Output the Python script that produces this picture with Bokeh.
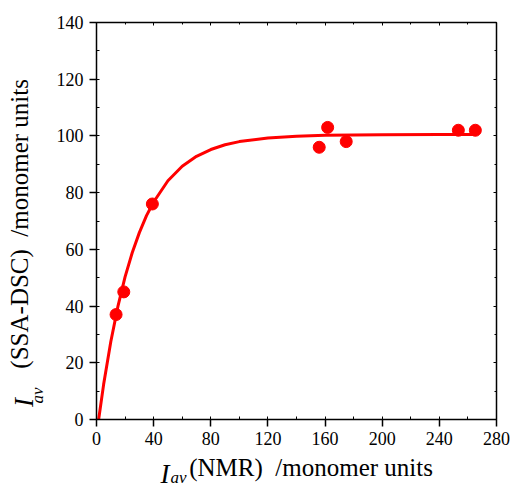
from bokeh.plotting import figure
from bokeh.models import Range1d, LinearAxis, SingleIntervalTicker, FixedTicker
from bokeh.embed import file_html
from bokeh.resources import INLINE

# measured data points
nmr = [13.7, 19.1, 39.1, 155.9, 161.8, 174.8, 253.3, 265.2]
ssa = [37, 45, 76, 96, 103, 98, 102, 102]

# fitted curve
fit_x = [1.5, 5, 10, 15, 20, 25, 30, 35, 40, 50, 60, 70, 80, 90, 100, 120, 140, 160, 200, 240, 266]
fit_y = [0, 12.4, 27.4, 39.9, 50.3, 58.8, 65.9, 71.9, 76.7, 84.2, 89.3, 92.8, 95.2, 96.9, 98.0, 99.3, 99.9, 100.2, 100.4, 100.5, 100.5]

x_ticks = [0, 40, 80, 120, 160, 200, 240, 280]
y_ticks = [0, 20, 40, 60, 80, 100, 120, 140]

# axis title pieces
x_title = ["I", "av", "(NMR)\u00a0 /monomer units"]
y_title = ["I", "av", "(SSA-DSC)\u00a0 /monomer units"]

FONT = "Liberation Serif"
W, H = 513, 491
FL, FR, FT, FB = 96, 17, 22, 70

p = figure(width=W, height=H, x_range=Range1d(0, 280), y_range=Range1d(0, 140),
           output_backend="svg", toolbar_location=None,
           min_border_left=FL, min_border_right=FR, min_border_top=FT, min_border_bottom=FB)
p.xgrid.visible = False
p.ygrid.visible = False
p.outline_line_color = None
p.background_fill_color = "white"
p.border_fill_color = "white"

p.line(fit_x, fit_y, line_color="#ff0000", line_width=3)
p.scatter(nmr, ssa, size=12, fill_color="#ff0000", line_color="#ff0000")

for ax, iv, so in ((p.xaxis[0], 40, 5), (p.yaxis[0], 20, 6)):
    ax.ticker = SingleIntervalTicker(interval=iv, num_minor_ticks=2)
    ax.axis_line_width = 1.5
    ax.axis_line_color = "black"
    ax.major_tick_line_width = 1.5
    ax.major_tick_line_color = "black"
    ax.minor_tick_line_color = "black"
    ax.minor_tick_line_width = 1
    ax.major_tick_out = 7
    ax.major_tick_in = 0
    ax.minor_tick_in = 3
    ax.minor_tick_out = 0
    ax.major_label_text_font = FONT
    ax.major_label_text_font_size = "18px"
    ax.major_label_text_color = "black"
    ax.major_label_standoff = so

p.xaxis.major_label_overrides = {v: str(v) for v in x_ticks}
p.yaxis.major_label_overrides = {v: str(v) for v in y_ticks}

# mirrored ticks on top and right
for side, iv in (("above", 40), ("right", 20)):
    ax = LinearAxis(ticker=SingleIntervalTicker(interval=iv, num_minor_ticks=2),
                    axis_line_width=1.5, axis_line_color="black",
                    major_tick_in=3, major_tick_out=0, minor_tick_in=2, minor_tick_out=0,
                    major_tick_line_color="black", minor_tick_line_color="black",
                    major_label_text_color=None, major_label_text_font_size="1px",
                    major_label_standoff=0)
    p.add_layout(ax, side)


def title_piece(side, text, pos, size, italic, standoff):
    ax = LinearAxis(ticker=FixedTicker(ticks=[pos], minor_ticks=[]),
                    major_label_overrides={pos: text},
                    axis_line_color=None, major_tick_line_color=None, minor_tick_line_color=None,
                    major_tick_in=0, major_tick_out=0, minor_tick_in=0, minor_tick_out=0,
                    major_label_text_font=FONT, major_label_text_font_size=size,
                    major_label_text_font_style="italic" if italic else "normal",
                    major_label_text_color="black", major_label_standoff=standoff)
    if side == "left":
        ax.major_label_orientation = "parallel"
    p.add_layout(ax, side)


# x title (stacked below the x axis)
title_piece("below", x_title[2], 150.2, "25px", False, 6)
title_piece("below", x_title[0], 48.0, "27px", True, -25)
title_piece("below", x_title[1], 57.4, "17px", True, -24)

# y title (stacked left of the y axis)
title_piece("left", y_title[1], 8.5, "17px", True, 6)
title_piece("left", y_title[2], 69.0, "25px", False, -8)
title_piece("left", y_title[0], 6.0, "27px", True, -36)

open("out.html", "w").write(file_html(p, INLINE))
